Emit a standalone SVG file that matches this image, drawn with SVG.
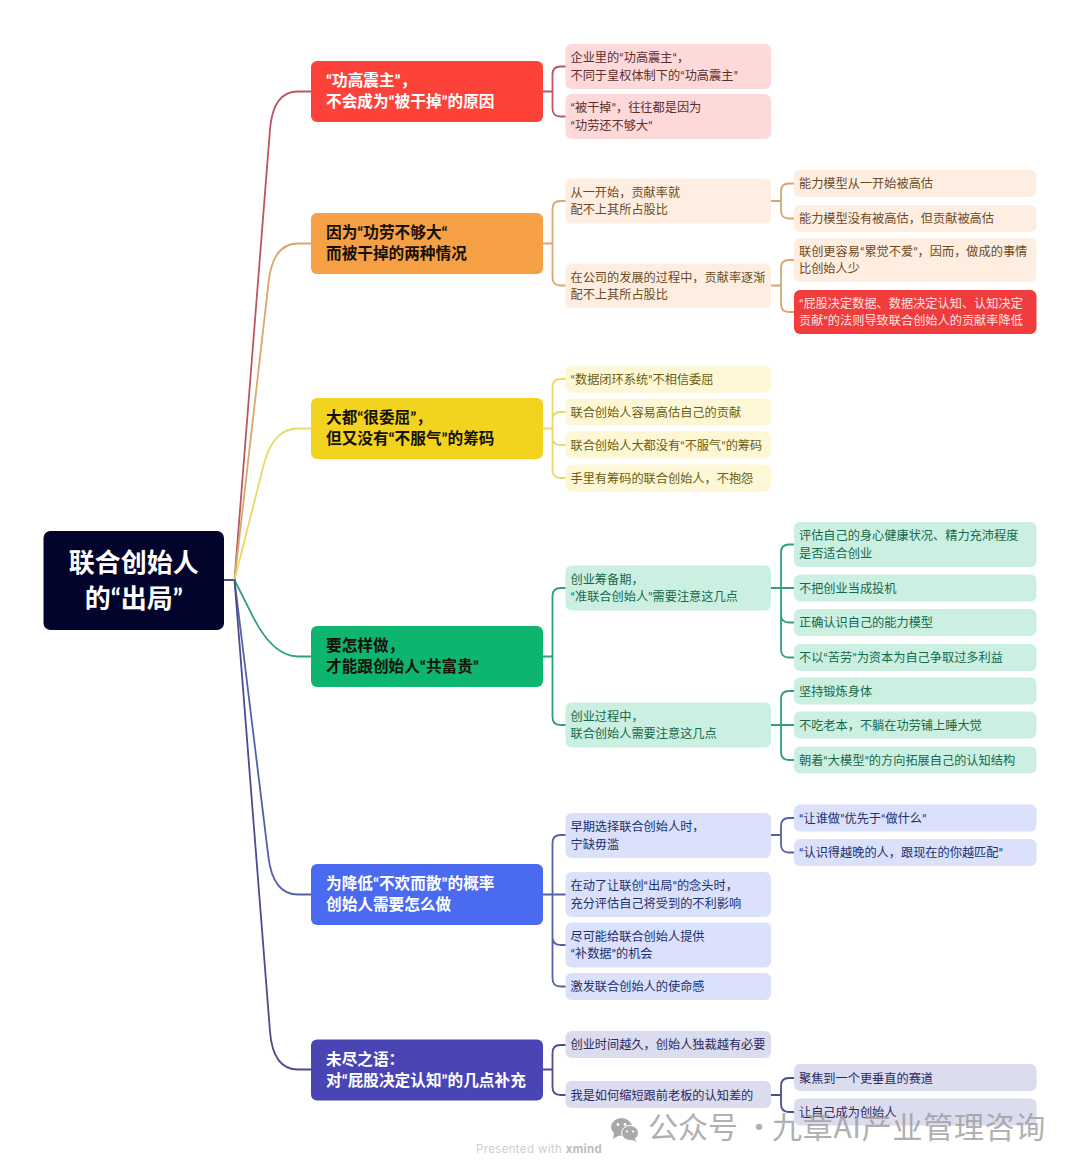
<svg xmlns="http://www.w3.org/2000/svg" width="1080" height="1170" viewBox="0 0 1080 1170">
<style>
text{font-family:Lato,"Noto Sans CJK SC","Noto Sans",sans-serif}
.c{fill:none;stroke-width:1.8;stroke-linecap:round}
.l1{font-size:15.65px;font-weight:700}
.l2{font-size:12.2px;font-weight:400}
.w{fill:#fff}.k{fill:#16110a}
.rr{stroke:#bd5662}.oo{stroke:#d8a86c}.yy{stroke:#e9d965}.gg{stroke:#2f9f7e}.bb{stroke:#5560a6}.pp{stroke:#4f4c8e}
.rb{fill:#fdd9d9}.rt{fill:#5f2d2d}
.ob{fill:#fdeee1}.ot{fill:#6d4a24}
.yb{fill:#fdf7d5}.yt{fill:#6a5e12}
.gb{fill:#cbf0e2}.gt{fill:#14694c}
.bub{fill:#dbe1fa}.but{fill:#20306f}
.pb{fill:#dcdcef}.pt{fill:#2b2960}
</style>
<rect width="1080" height="1170" fill="#fff"/>
<g id="connectors">
<path class="c pp" d="M224 580H234.5"/>
<path class="c rr" d="M234.5 580L270 129.4Q273 91.5 298 91.5H311"/>
<path class="c oo" d="M234.5 580L268.7 281.3Q273 243.5 298 243.5H311"/>
<path class="c yy" d="M234.5 580L263.6 465.3Q273 428.5 298 428.5H311"/>
<path class="c gg" d="M234.5 580L252.8 616.3Q273 656.5 298 656.5H311"/>
<path class="c bb" d="M234.5 580L268.4 856.8Q273 894.5 298 894.5H311"/>
<path class="c pp" d="M234.5 580L270 1031.6Q273 1069.5 298 1069.5H311"/>

<path class="c rr" d="M543 91.5H552.5M552.5 91.5V74.5Q552.5 66.5 560.5 66.5H565.5M552.5 91.5V108.5Q552.5 116.5 560.5 116.5H565.5"/>
<path class="c oo" d="M543 243.5H552.5M552.5 243.5V209Q552.5 201 560.5 201H565.5M552.5 243.5V277.5Q552.5 285.5 560.5 285.5H565.5"/>
<path class="c oo" d="M771 201H781M781 201V191.5Q781 183.5 789 183.5H794M781 201V210.5Q781 218.5 789 218.5H794"/>
<path class="c oo" d="M771 285.5H781M781 285.5V268Q781 260 789 260H794M781 285.5V304Q781 312 789 312H794"/>
<path class="c yy" d="M543 428.5H552.5M552.5 428.5V387Q552.5 379 560.5 379H565.5M552.5 428.5V420Q552.5 412 560.5 412H565.5M552.5 428.5V437Q552.5 445 560.5 445H565.5M552.5 428.5V470Q552.5 478 560.5 478H565.5"/>
<path class="c gg" d="M543 656.5H552.5M552.5 656.5V596Q552.5 588 560.5 588H565.5M552.5 656.5V717Q552.5 725 560.5 725H565.5"/>
<path class="c gg" d="M771 588H794M781 588V552.5Q781 544.5 789 544.5H794M781 588V614.5Q781 622.5 789 622.5H794M781 588V649.5Q781 657.5 789 657.5H794"/>
<path class="c gg" d="M771 725H794M781 725V699Q781 691 789 691H794M781 725V752Q781 760 789 760H794"/>
<path class="c bb" d="M543 894.5H565.5M552.5 894.5V843Q552.5 835 560.5 835H565.5M552.5 894.5V937Q552.5 945 560.5 945H565.5M552.5 894.5V978.5Q552.5 986.5 560.5 986.5H565.5"/>
<path class="c bb" d="M771 835H781M781 835V826Q781 818 789 818H794M781 835V844.5Q781 852.5 789 852.5H794"/>
<path class="c pp" d="M543 1069.5H552.5M552.5 1069.5V1053Q552.5 1045 560.5 1045H565.5M552.5 1069.5V1087Q552.5 1095 560.5 1095H565.5"/>
<path class="c pp" d="M771 1095H781M781 1095V1086Q781 1078 789 1078H794M781 1095V1104Q781 1112 789 1112H794"/>
</g>

<g id="root"><rect x="43.5" y="531" width="180.5" height="99" rx="7" fill="#02042b"/>
<text x="133.7" y="572" text-anchor="middle" font-size="26" font-weight="700" class="w">联合创始人</text>
<text x="133.7" y="608" text-anchor="middle" font-size="26" font-weight="700" class="w">的“出局”</text></g>

<g id="t1"><rect x="311" y="61" width="232" height="61" rx="6" fill="#fd4239"/>
<text x="326" y="86.4" class="l1 w">“功高震主”，</text><text x="326" y="107.4" class="l1 w">不会成为“被干掉”的原因</text></g>
<g id="t1a"><rect x="565.5" y="44" width="205.5" height="45" rx="6" class="rb"/>
<text x="570.5" y="62.3" class="l2 rt">企业里的“功高震主“，</text><text x="570.5" y="79.7" class="l2 rt">不同于皇权体制下的“功高震主”</text></g>
<g id="t1b"><rect x="565.5" y="94" width="205.5" height="45" rx="6" class="rb"/>
<text x="570.5" y="112.3" class="l2 rt">“被干掉”，往往都是因为</text><text x="570.5" y="129.7" class="l2 rt">“功劳还不够大”</text></g>

<g id="t2"><rect x="311" y="213" width="232" height="61" rx="6" fill="#f5a044"/>
<text x="326" y="238.4" class="l1 k">因为“功劳不够大“</text><text x="326" y="259.4" class="l1 k">而被干掉的两种情况</text></g>
<g id="t2a"><rect x="565.5" y="178.5" width="205.5" height="45" rx="6" class="ob"/>
<text x="570.5" y="196.8" class="l2 ot">从一开始，贡献率就</text><text x="570.5" y="214.2" class="l2 ot">配不上其所占股比</text></g>
<g id="t2b"><rect x="565.5" y="263.5" width="205.5" height="44.5" rx="6" class="ob"/>
<text x="570.5" y="281.5" class="l2 ot">在公司的发展的过程中，贡献率逐渐</text><text x="570.5" y="298.9" class="l2 ot">配不上其所占股比</text></g>
<g id="t2a1"><rect x="794" y="170" width="242.5" height="27" rx="6" class="ob"/><text x="799" y="188" class="l2 ot">能力模型从一开始被高估</text></g>
<g id="t2a2"><rect x="794" y="205" width="242.5" height="27" rx="6" class="ob"/><text x="799" y="223" class="l2 ot">能力模型没有被高估，但贡献被高估</text></g>
<g id="t2b1"><rect x="794" y="238" width="242.5" height="44" rx="6" class="ob"/>
<text x="799" y="255.8" class="l2 ot">联创更容易“累觉不爱”，因而，做成的事情</text><text x="799" y="273.2" class="l2 ot">比创始人少</text></g>
<g id="t2b2"><rect x="794" y="290" width="242.5" height="44" rx="6" fill="#f03c3c"/>
<text x="799" y="307.8" class="l2" fill="#ffe3e3">“屁股决定数据、数据决定认知、认知决定</text><text x="799" y="325.2" class="l2" fill="#ffe3e3">贡献”的法则导致联合创始人的贡献率降低</text></g>

<g id="t3"><rect x="311" y="398" width="232" height="61" rx="6" fill="#f2d31f"/>
<text x="326" y="423.4" class="l1 k">大都“很委屈”，</text><text x="326" y="444.4" class="l1 k">但又没有“不服气”的筹码</text></g>
<g id="t3a"><rect x="565.5" y="365.5" width="205.5" height="27" rx="6" class="yb"/><text x="570.5" y="383.6" class="l2 yt">“数据闭环系统”不相信委屈</text></g>
<g id="t3b"><rect x="565.5" y="398.5" width="205.5" height="27" rx="6" class="yb"/><text x="570.5" y="416.6" class="l2 yt">联合创始人容易高估自己的贡献</text></g>
<g id="t3c"><rect x="565.5" y="431.5" width="205.5" height="27" rx="6" class="yb"/><text x="570.5" y="449.6" class="l2 yt">联合创始人大都没有“不服气”的筹码</text></g>
<g id="t3d"><rect x="565.5" y="464.5" width="205.5" height="27" rx="6" class="yb"/><text x="570.5" y="482.6" class="l2 yt">手里有筹码的联合创始人，不抱怨</text></g>

<g id="t4"><rect x="311" y="626" width="232" height="61" rx="6" fill="#0db56f"/>
<text x="326" y="651.4" class="l1 k">要怎样做，</text><text x="326" y="672.4" class="l1 k">才能跟创始人“共富贵”</text></g>
<g id="t4a"><rect x="565.5" y="565.5" width="205.5" height="45" rx="6" class="gb"/>
<text x="570.5" y="583.8" class="l2 gt">创业筹备期，</text><text x="570.5" y="601.2" class="l2 gt">“准联合创始人”需要注意这几点</text></g>
<g id="t4b"><rect x="565.5" y="702.5" width="205.5" height="45" rx="6" class="gb"/>
<text x="570.5" y="720.8" class="l2 gt">创业过程中，</text><text x="570.5" y="738.2" class="l2 gt">联合创始人需要注意这几点</text></g>
<g id="t4a1"><rect x="794" y="522" width="242.5" height="45" rx="6" class="gb"/>
<text x="799" y="540.3" class="l2 gt">评估自己的身心健康状况、精力充沛程度</text><text x="799" y="557.7" class="l2 gt">是否适合创业</text></g>
<g id="t4a2"><rect x="794" y="574.5" width="242.5" height="27" rx="6" class="gb"/><text x="799" y="592.6" class="l2 gt">不把创业当成投机</text></g>
<g id="t4a3"><rect x="794" y="609" width="242.5" height="27" rx="6" class="gb"/><text x="799" y="627.1" class="l2 gt">正确认识自己的能力模型</text></g>
<g id="t4a4"><rect x="794" y="644" width="242.5" height="27" rx="6" class="gb"/><text x="799" y="662.1" class="l2 gt">不以“苦劳”为资本为自己争取过多利益</text></g>
<g id="t4b1"><rect x="794" y="677.5" width="242.5" height="27" rx="6" class="gb"/><text x="799" y="695.6" class="l2 gt">坚持锻炼身体</text></g>
<g id="t4b2"><rect x="794" y="711.5" width="242.5" height="27" rx="6" class="gb"/><text x="799" y="729.6" class="l2 gt">不吃老本，不躺在功劳铺上睡大觉</text></g>
<g id="t4b3"><rect x="794" y="746.5" width="242.5" height="27" rx="6" class="gb"/><text x="799" y="764.6" class="l2 gt">朝着“大模型”的方向拓展自己的认知结构</text></g>

<g id="t5"><rect x="311" y="864" width="232" height="61" rx="6" fill="#4a6af0"/>
<text x="326" y="889.4" class="l1 w">为降低“不欢而散”的概率</text><text x="326" y="910.4" class="l1 w">创始人需要怎么做</text></g>
<g id="t5a"><rect x="565.5" y="813" width="205.5" height="45" rx="6" class="bub"/>
<text x="570.5" y="831.3" class="l2 but">早期选择联合创始人时，</text><text x="570.5" y="848.7" class="l2 but">宁缺毋滥</text></g>
<g id="t5b"><rect x="565.5" y="872" width="205.5" height="45" rx="6" class="bub"/>
<text x="570.5" y="890.3" class="l2 but">在动了让联创“出局”的念头时，</text><text x="570.5" y="907.7" class="l2 but">充分评估自己将受到的不利影响</text></g>
<g id="t5c"><rect x="565.5" y="922.5" width="205.5" height="45" rx="6" class="bub"/>
<text x="570.5" y="940.8" class="l2 but">尽可能给联合创始人提供</text><text x="570.5" y="958.2" class="l2 but">“补数据”的机会</text></g>
<g id="t5d"><rect x="565.5" y="973" width="205.5" height="27" rx="6" class="bub"/><text x="570.5" y="991.1" class="l2 but">激发联合创始人的使命感</text></g>
<g id="t5a1"><rect x="794" y="804.5" width="242.5" height="27" rx="6" class="bub"/><text x="799" y="822.6" class="l2 but">“让谁做”优先于“做什么”</text></g>
<g id="t5a2"><rect x="794" y="839" width="242.5" height="27" rx="6" class="bub"/><text x="799" y="857.1" class="l2 but">“认识得越晚的人，跟现在的你越匹配”</text></g>

<g id="t6"><rect x="311" y="1039.5" width="232" height="61" rx="6" fill="#4a45b5"/>
<text x="326" y="1064.6" class="l1 w">未尽之语：</text><text x="326" y="1085.6" class="l1 w">对“屁股决定认知”的几点补充</text></g>
<g id="t6a"><rect x="565.5" y="1031" width="205.5" height="27" rx="6" class="pb"/><text x="570.5" y="1049.1" class="l2 pt">创业时间越久，创始人独裁越有必要</text></g>
<g id="t6b"><rect x="565.5" y="1081" width="205.5" height="27" rx="6" class="pb"/><text x="570.5" y="1099.6" class="l2 pt">我是如何缩短跟前老板的认知差的</text></g>
<g id="t6b1"><rect x="794" y="1064" width="242.5" height="27" rx="6" class="pb"/><text x="799" y="1082.6" class="l2 pt">聚焦到一个更垂直的赛道</text></g>
<g id="t6b2"><rect x="794" y="1098.5" width="242.5" height="27" rx="6" class="pb"/><text x="799" y="1116.6" class="l2 pt">让自己成为创始人</text></g>

<text x="476" y="1152.5" font-size="11.5" fill="#cfcfcf" letter-spacing=".35" style="font-family:Inter,sans-serif">Presented with <tspan font-weight="700" fill="#bdbdbd">xmind</tspan></text>

<g id="watermark" opacity=".85">
<ellipse cx="621.5" cy="1127" rx="10.5" ry="9" fill="#9b9b9b"/>
<path d="M614 1133L613 1139L620 1135Z" fill="#9b9b9b"/>
<ellipse cx="630" cy="1133" rx="8.5" ry="7.5" fill="#9b9b9b" stroke="#fff" stroke-width="1"/>
<path d="M634 1138L637 1142L630 1139Z" fill="#9b9b9b"/>
<circle cx="618" cy="1124.5" r="1.4" fill="#fff"/><circle cx="625" cy="1124.5" r="1.4" fill="#fff"/>
<circle cx="627" cy="1131.5" r="1.1" fill="#fff"/><circle cx="633" cy="1131.5" r="1.1" fill="#fff"/>
<text x="648" y="1137.5" font-size="30" fill="#9a9a9a" opacity=".9" style="font-family:'Noto Sans CJK SC','Noto Sans',sans-serif">公众号<tspan x="744">·</tspan><tspan x="772" letter-spacing=".7">九章AI产业管理咨询</tspan></text>
</g>
</svg>
